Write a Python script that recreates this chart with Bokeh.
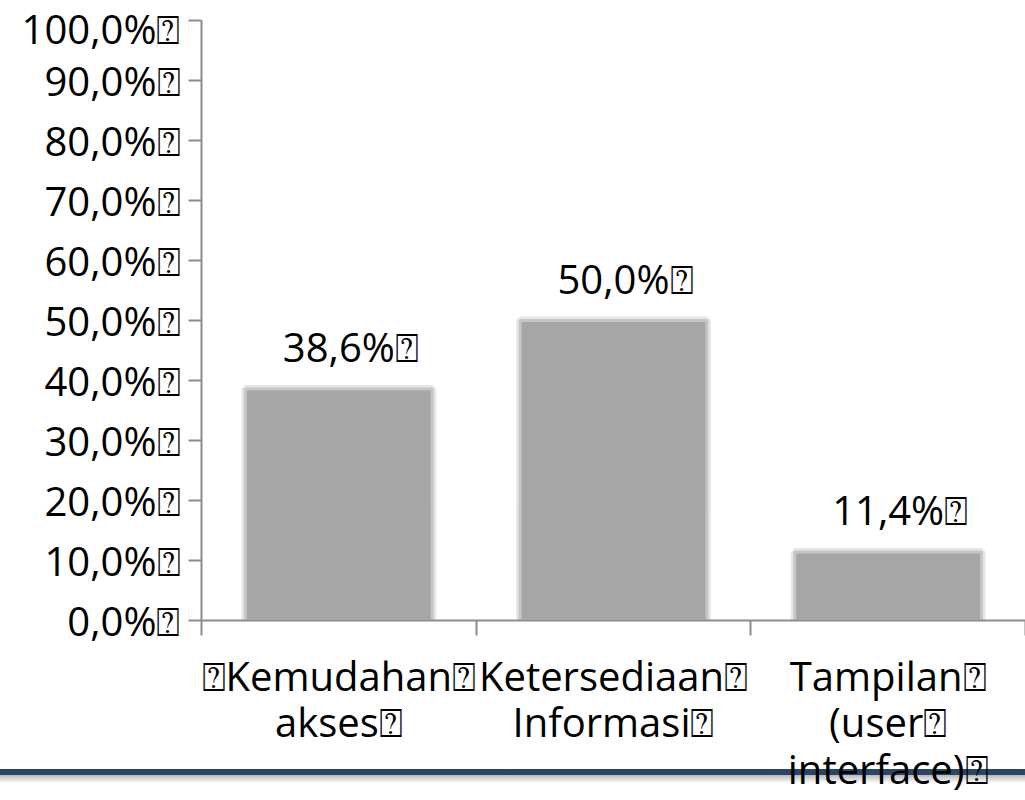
from bokeh.plotting import figure
from bokeh.models import (FactorRange, Range1d, FixedTicker,
                          LinearAxis, CategoricalAxis)
from bokeh.core.properties import value
from bokeh.embed import file_html
from bokeh.resources import INLINE

BOX = "\u2370"

categories = [BOX + "Kemudahan" + BOX + "\nakses" + BOX,
              "Ketersediaan" + BOX + "\nInformasi" + BOX,
              "Tampilan" + BOX + "\n(user" + BOX + "\ninterface)" + BOX]
values = [38.6, 50.0, 11.4]
value_labels = ["38,6%" + BOX, "50,0%" + BOX, "11,4%" + BOX]
y_ticks = [0, 10, 20, 30, 40, 50, 60, 70, 80, 90, 100]
y_tick_labels = ["0,0%", "10,0%", "20,0%", "30,0%", "40,0%", "50,0%",
                 "60,0%", "70,0%", "80,0%", "90,0%", "100,0%"]
# category boundaries in the factor range's synthetic coordinates
category_edges = list(range(len(categories) + 1))

FONT = "Open Sans"
FS = "40px"
AXIS_GREY = "#8c8c8c"

p = figure(x_range=FactorRange(*categories), y_range=Range1d(0, 100),
           width=1025, height=800, output_backend="svg", toolbar_location=None,
           x_axis_location=None,
           min_border_left=201, min_border_right=0, min_border_top=20,
           min_border_bottom=180)
p.outline_line_color = None
p.grid.visible = False
# transparent canvas so the slide's dark-blue rule (host background) shows through
p.border_fill_alpha = 0
p.background_fill_alpha = 0
p.styles = {"background": "linear-gradient(to bottom, #ffffff 0px, #ffffff 769px, "
                          "#2b4566 769px, #2b4566 775px, #b8b8b8 775px, "
                          "#ffffff 783px, #ffffff 800px)"}

p.vbar(x=categories, top=values, width=0.68, bottom=0,
       fill_color="#a6a6a6", line_color="#e6e6e6", line_width=8)
p.vbar(x=categories, top=values, width=0.68, bottom=0,
       fill_color="#a6a6a6", line_color="#c6c6c6", line_width=3)

p.text(x=categories, y=values, text=value_labels, text_align="center",
       text_baseline="bottom", y_offset=-15, x_offset=12,
       text_font=value(FONT), text_font_size=FS, text_color="black")

# y axis
ya = p.yaxis[0]
ya.ticker = FixedTicker(ticks=y_ticks)
ya.major_label_overrides = {t: lab + BOX for t, lab in zip(y_ticks, y_tick_labels)}
ya.major_label_standoff = 8

# x axis: ticks at category boundaries, labels on a second categorical axis
tick_axis = LinearAxis(ticker=FixedTicker(ticks=category_edges),
                       major_label_standoff=0)
p.add_layout(tick_axis, "below")
cat_axis = CategoricalAxis()
p.add_layout(cat_axis, "below")

for ax in (ya, tick_axis, cat_axis):
    ax.axis_line_color = AXIS_GREY
    ax.axis_line_width = 2
    ax.major_tick_line_color = AXIS_GREY
    ax.major_tick_line_width = 2
    ax.major_tick_in = 0
    ax.major_tick_out = 13
    ax.minor_tick_line_color = None
    ax.major_label_text_font = FONT
    ax.major_label_text_font_size = FS
    ax.major_label_text_color = "black"

tick_axis.major_label_text_font_size = "1px"
tick_axis.major_label_overrides = {t: "" for t in category_edges}
tick_axis.major_tick_out = 15
cat_axis.axis_line_color = None
cat_axis.major_tick_line_color = None
cat_axis.major_tick_out = 0
cat_axis.major_label_standoff = 12
cat_axis.major_label_text_line_height = 0.85

open("out.html", "w").write(file_html(p, INLINE))
